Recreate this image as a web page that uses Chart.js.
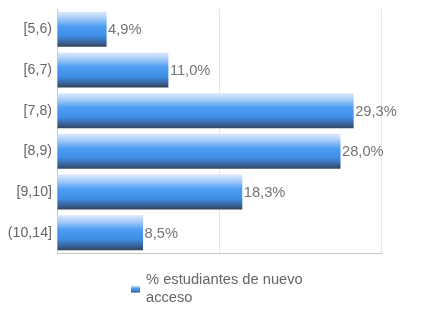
<!DOCTYPE html>
<html>
<head>
<meta charset="utf-8">
<script src="https://cdn.jsdelivr.net/npm/chart.js@4/dist/chart.umd.min.js"></script>
<style>
  html, body { margin: 0; padding: 0; background: #fff; }
  #wrap { width: 432px; height: 324px; position: relative; }
</style>
</head>
<body>
<div id="wrap"><canvas id="c" width="432" height="324"></canvas></div>
<script>
// Grade intervals and share of new students in each
const categories = ['[5,6)', '[6,7)', '[7,8)', '[8,9)', '[9,10]', '(10,14]'];
const values = [4.9, 11.0, 29.3, 28.0, 18.3, 8.5];
const seriesLabel = '% estudiantes de nuevo acceso';
const axisMax = 32;
const axisStep = 16;

const FONT = '"Liberation Sans", Arial, sans-serif';
const FONT_SIZE = 14.7;
const TICK_FONT_SIZE = 14.2;

// Vertical shaded fill for each bar: pale top, bright blue body, dark base
function barShade(ctx, top, bottom) {
  const g = ctx.createLinearGradient(0, top, 0, bottom);
  g.addColorStop(0.00, '#dbe9fc');
  g.addColorStop(0.18, '#a9cdf8');
  g.addColorStop(0.42, '#4b9cf2');
  g.addColorStop(0.68, '#3f8fe6');
  g.addColorStop(0.86, '#3a68a3');
  g.addColorStop(1.00, '#33445a');
  return g;
}

// Value labels printed just past the end of each bar
const valueLabels = {
  id: 'valueLabels',
  afterDatasetsDraw(chart) {
    const { ctx } = chart;
    const meta = chart.getDatasetMeta(0);
    ctx.save();
    ctx.font = FONT_SIZE + 'px ' + FONT;
    ctx.fillStyle = '#757575';
    ctx.textAlign = 'left';
    ctx.textBaseline = 'middle';
    meta.data.forEach((bar, i) => {
      const txt = values[i].toFixed(1).replace('.', ',') + '%';
      ctx.fillText(txt, bar.x + 1.5, bar.y + 1);
    });
    ctx.restore();
  }
};

// Legend drawn below the plot with the series name wrapped onto two lines
const wrappedLegend = {
  id: 'wrappedLegend',
  afterDraw(chart) {
    const { ctx } = chart;
    const label = chart.data.datasets[0].label;
    ctx.save();
    ctx.font = FONT_SIZE + 'px ' + FONT;
    const maxW = 170;
    const words = label.split(' ');
    const lines = [];
    let line = '';
    words.forEach(w => {
      const test = line ? line + ' ' + w : w;
      if (ctx.measureText(test).width > maxW && line) { lines.push(line); line = w; }
      else line = test;
    });
    if (line) lines.push(line);
    const textX = 146;
    const firstY = 280;
    const lh = 17.5;
    ctx.fillStyle = '#666';
    ctx.textAlign = 'left';
    ctx.textBaseline = 'middle';
    lines.forEach((l, i) => ctx.fillText(l, textX, firstY + i * lh));
    const boxTop = 285.5, boxH = 7;
    ctx.fillStyle = barShade(ctx, boxTop, boxTop + boxH);
    ctx.fillRect(131, boxTop, 9, boxH);
    ctx.restore();
  }
};

new Chart(document.getElementById('c'), {
  type: 'bar',
  data: {
    labels: categories,
    datasets: [{
      label: seriesLabel,
      data: values,
      backgroundColor(context) {
        const chart = context.chart;
        const y = chart.scales && chart.scales.y;
        if (!y || context.dataIndex === undefined) return '#4b9cf2';
        const c = y.getPixelForValue(context.dataIndex);
        const half = (y.height / categories.length) * 0.86 / 2;
        if (!isFinite(c) || !isFinite(half) || half <= 0) return '#4b9cf2';
        return barShade(chart.ctx, c - half, c + half);
      },
      borderWidth: 0,
      barPercentage: 0.86,
      categoryPercentage: 1.0
    }]
  },
  options: {
    indexAxis: 'y',
    responsive: false,
    animation: false,
    devicePixelRatio: 1,
    layout: { padding: { top: 9, right: 51, bottom: 71, left: 0 } },
    plugins: {
      legend: { display: false },
      tooltip: { enabled: false }
    },
    scales: {
      x: {
        min: 0,
        max: axisMax,
        ticks: { display: false, stepSize: axisStep },
        grid: { color: '#e6e6e6', drawTicks: false, lineWidth: 1 },
        border: { display: true, color: '#c6c6c6', width: 1 },
        afterFit(scale) { scale.height = 0; scale.paddingLeft = 0; scale.paddingRight = 0; }
      },
      y: {
        ticks: {
          color: '#666',
          font: { family: FONT, size: TICK_FONT_SIZE },
          padding: 5
        },
        grid: { color: 'rgba(0,0,0,0)', drawTicks: false },
        border: { display: true, color: '#c6c6c6', width: 1 },
        afterFit(scale) { scale.width = 57; scale.paddingTop = 0; scale.paddingBottom = 0; }
      }
    }
  },
  plugins: [valueLabels, wrappedLegend]
});
</script>
</body>
</html>
